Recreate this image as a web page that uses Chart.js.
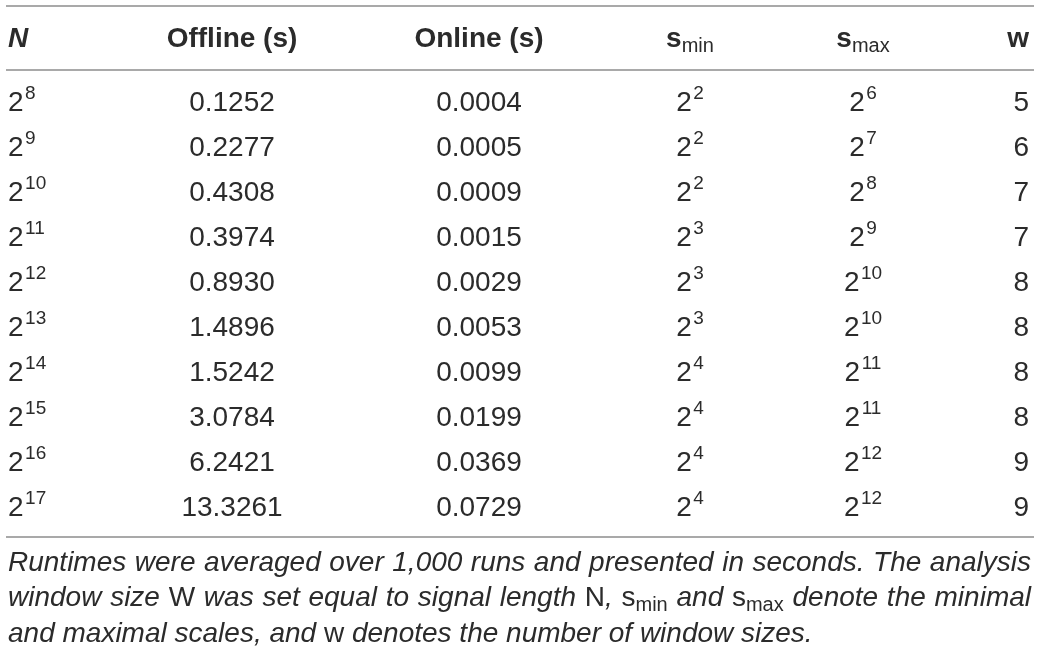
<!DOCTYPE html>
<html>
<head>
<meta charset="utf-8">
<style>
  html, body { margin: 0; padding: 0; background: #fff; }
  #wrap { width: 1040px; height: 656px; }
</style>
<script src="https://cdn.jsdelivr.net/npm/chart.js@4.4.1/dist/chart.umd.min.js"></script>
</head>
<body>
<div id="wrap"><canvas id="table" width="1040" height="656"></canvas></div>
<script>
// --- table data ---
const nExponents = [8, 9, 10, 11, 12, 13, 14, 15, 16, 17];
const offlineSec = [0.1252, 0.2277, 0.4308, 0.3974, 0.8930, 1.4896, 1.5242, 3.0784, 6.2421, 13.3261];
const onlineSec = [0.0004, 0.0005, 0.0009, 0.0015, 0.0029, 0.0053, 0.0099, 0.0199, 0.0369, 0.0729];
const sMinExponents = [2, 2, 2, 3, 3, 3, 4, 4, 4, 4];
const sMaxExponents = [6, 7, 8, 9, 10, 10, 11, 11, 12, 12];
const windowCounts = [5, 6, 7, 7, 8, 8, 8, 8, 9, 9];

const headers = [
  [{ t: 'N', s: 'bi' }],
  [{ t: 'Offline (s)', s: 'b' }],
  [{ t: 'Online (s)', s: 'b' }],
  [{ t: 's', s: 'b' }, { t: 'min', s: 'hsub' }],
  [{ t: 's', s: 'b' }, { t: 'max', s: 'hsub' }],
  [{ t: 'w', s: 'b' }]
];

const captionLines = [
  [{ t: 'Runtimes were averaged over 1,000 runs and presented in seconds. The analysis', s: 'i' }],
  [{ t: 'window size ', s: 'i' }, { t: 'W', s: 'cr' }, { t: ' was set equal to signal length ', s: 'i' },
   { t: 'N', s: 'cr' }, { t: ', ', s: 'i' }, { t: 's', s: 'cr' }, { t: 'min', s: 'sub' },
   { t: ' and ', s: 'i' }, { t: 's', s: 'cr' }, { t: 'max', s: 'sub' }, { t: ' denote the minimal', s: 'i' }],
  [{ t: 'and maximal scales, and ', s: 'i' }, { t: 'w', s: 'cr' }, { t: ' denotes the number of window sizes.', s: 'i' }]
];

// --- layout (x in px, y in row units) ---
const colX = [8, 232, 479, 690, 863, 1029];
const colAlign = ['left', 'center', 'center', 'center', 'center', 'right'];
const ROW_TOP_RULE = -2.33, ROW_HEADER = -1.42, ROW_HEAD_RULE = -0.91, ROW_BOTTOM_RULE = 9.47;
const captionRows = [10.22, 11.01, 11.8];
const RULE_X = [6, 1034];
const TEXT_X = [8, 1031];

const FS = 28;   // table body
const CFS = 28;  // caption
const FAMILY = '"Liberation Sans", Arial, Helvetica, sans-serif';
const styles = {
  r:    { font: `${FS}px ${FAMILY}`, dy: 0 },
  b:    { font: `bold ${FS}px ${FAMILY}`, dy: 0 },
  bi:   { font: `italic bold ${FS}px ${FAMILY}`, dy: 0 },
  sup:  { font: `19px ${FAMILY}`, dy: -12, dx: 1.5 },
  hsub: { font: `20px ${FAMILY}`, dy: 5 },
  i:    { font: `italic ${CFS}px ${FAMILY}`, dy: 0 },
  cr:   { font: `${CFS}px ${FAMILY}`, dy: 0 },
  sub:  { font: `20px ${FAMILY}`, dy: 5 }
};

const power = e => [{ t: '2', s: 'r' }, { t: String(e), s: 'sup' }];
const columns = [
  nExponents.map(power),
  offlineSec.map(v => [{ t: v.toFixed(4), s: 'r' }]),
  onlineSec.map(v => [{ t: v.toFixed(4), s: 'r' }]),
  sMinExponents.map(power),
  sMaxExponents.map(power),
  windowCounts.map(v => [{ t: String(v), s: 'r' }])
];

function partsWidth(ctx, parts) {
  let w = 0;
  parts.forEach(p => {
    ctx.font = styles[p.s].font;
    w += ctx.measureText(p.t).width + (styles[p.s].dx || 0);
  });
  return w;
}

function drawParts(ctx, parts, x, y, align) {
  const w = partsWidth(ctx, parts);
  let cx = align === 'left' ? x : align === 'right' ? x - w : x - w / 2;
  parts.forEach(p => {
    const st = styles[p.s];
    ctx.font = st.font;
    cx += st.dx || 0;
    ctx.fillText(p.t, cx, y + st.dy);
    cx += ctx.measureText(p.t).width;
  });
}

function toWords(runs) {
  const words = [[]];
  runs.forEach(run => {
    run.t.split(' ').forEach((piece, k) => {
      if (k > 0) words.push([]);
      if (piece) words[words.length - 1].push({ t: piece, s: run.s });
    });
  });
  return words.filter(w => w.length);
}

const tablePlugin = {
  id: 'tableText',
  afterDraw(chart) {
    const ctx = chart.ctx;
    const xs = chart.scales.x, ys = chart.scales.y;
    ctx.save();
    ctx.textBaseline = 'alphabetic';
    ctx.textAlign = 'left';
    ctx.fillStyle = '#2b2b2b';

    // rules
    ctx.strokeStyle = '#a9a9a9';
    ctx.lineWidth = 2;
    [ROW_TOP_RULE, ROW_HEAD_RULE, ROW_BOTTOM_RULE].forEach(r => {
      const y = Math.round(ys.getPixelForValue(r));
      ctx.beginPath();
      ctx.moveTo(xs.getPixelForValue(RULE_X[0]), y);
      ctx.lineTo(xs.getPixelForValue(RULE_X[1]), y);
      ctx.stroke();
    });

    // header
    headers.forEach((h, c) => {
      drawParts(ctx, h, xs.getPixelForValue(colX[c]), ys.getPixelForValue(ROW_HEADER), colAlign[c]);
    });

    // cells, placed at the dataset points
    chart.data.datasets.forEach((ds, c) => {
      chart.getDatasetMeta(c).data.forEach((el, i) => {
        drawParts(ctx, columns[c][i], el.x, el.y, colAlign[c]);
      });
    });

    // caption, first lines justified
    const left = xs.getPixelForValue(TEXT_X[0]);
    const right = xs.getPixelForValue(TEXT_X[1]);
    captionLines.forEach((runs, li) => {
      const words = toWords(runs);
      const widths = words.map(w => partsWidth(ctx, w));
      const total = widths.reduce((a, b) => a + b, 0);
      ctx.font = styles.i.font;
      let gap = ctx.measureText(' ').width;
      if (li < captionLines.length - 1) gap = (right - left - total) / (words.length - 1);
      let x = left;
      const y = ys.getPixelForValue(captionRows[li]);
      words.forEach((w, k) => {
        drawParts(ctx, w, x, y, 'left');
        x += widths[k] + gap;
      });
    });
    ctx.restore();
  }
};

new Chart(document.getElementById('table'), {
  type: 'scatter',
  data: {
    datasets: columns.map((col, c) => ({
      label: 'col' + c,
      data: col.map((_, i) => ({ x: colX[c], y: i })),
      pointRadius: 0,
      pointHoverRadius: 0
    }))
  },
  options: {
    responsive: false,
    animation: false,
    events: [],
    layout: { padding: { top: 88.5, bottom: 117.5, left: 0, right: 0 } },
    scales: {
      x: { type: 'linear', min: 0, max: 1040, display: false },
      y: { type: 'linear', min: -0.5, max: 9.5, reverse: true, display: false }
    },
    plugins: { legend: { display: false }, tooltip: { enabled: false } }
  },
  plugins: [tablePlugin]
});
</script>
</body>
</html>
